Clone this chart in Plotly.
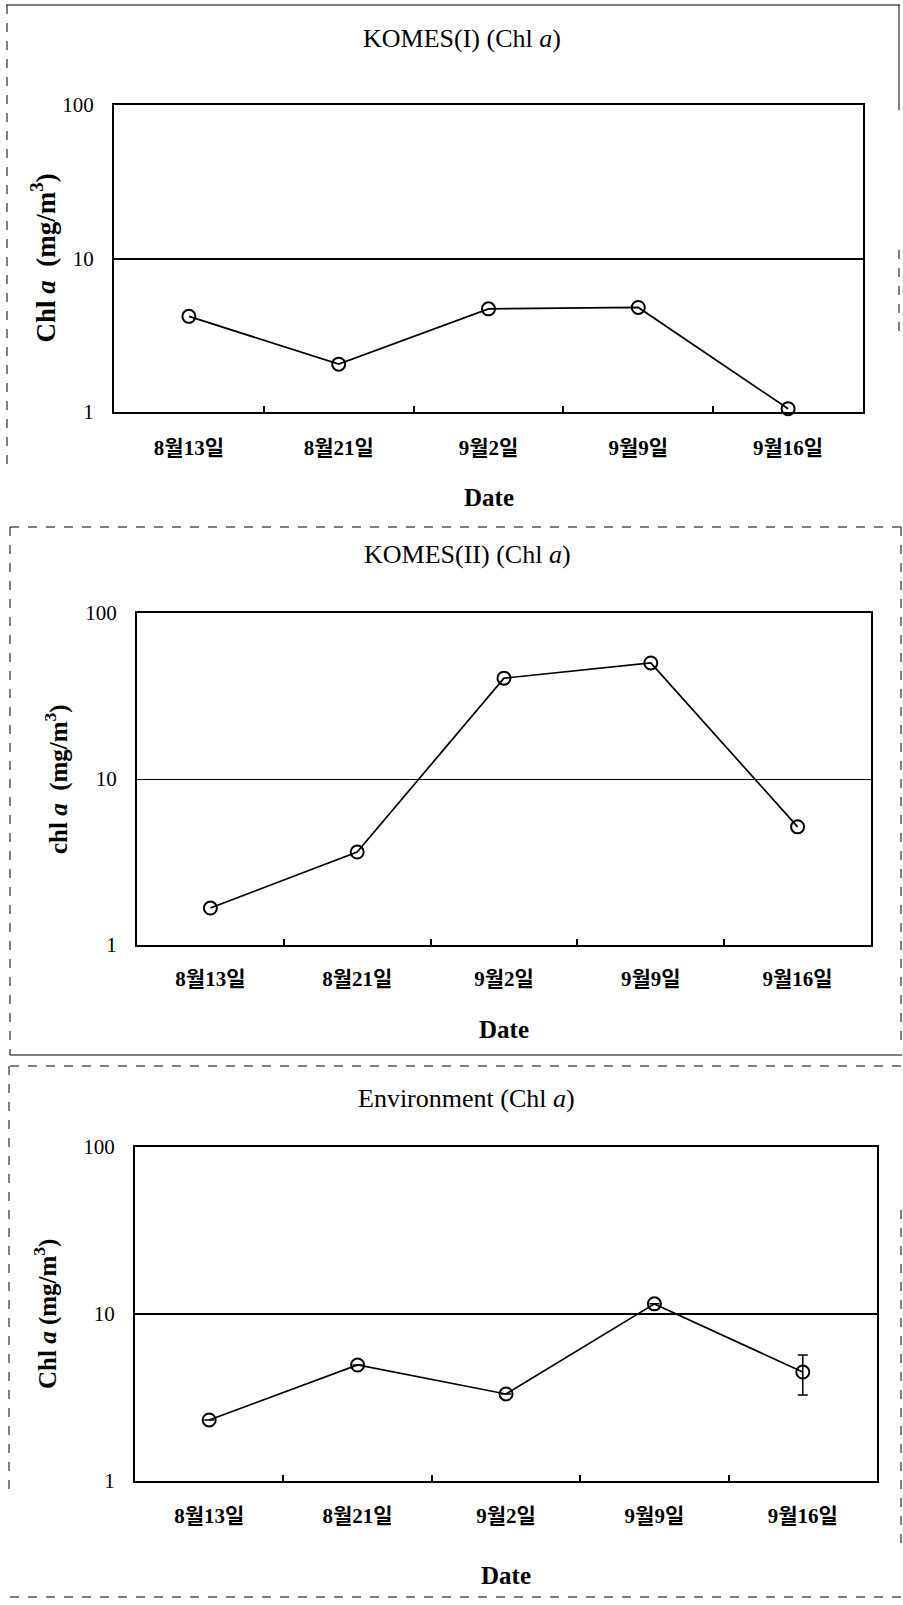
import plotly.graph_objects as go

# ---------------- data ----------------
dates = ["8월13일", "8월21일", "9월2일", "9월9일", "9월16일"]
komes1 = [4.2, 2.05, 4.7, 4.8, 1.05]
komes2 = [1.67, 3.63, 40.5, 50.0, 5.15]
env = [2.32, 4.95, 3.32, 11.5, 4.49]
env_err_plus = [0, 0, 0, 0, 1.19]
env_err_minus = [0, 0, 0, 0, 1.22]
ytick_vals = [1, 10, 100]
ytick_text = ["1", "10", "100"]
titles = ["KOMES(I) (Chl <i>a</i>)", "KOMES(II) (Chl <i>a</i>)", "Environment (Chl <i>a</i>)"]
ytitles = ["Chl <i>a</i>  (mg/m<sup>3</sup>)", "chl <i>a</i>  (mg/m<sup>3</sup>)", "Chl <i>a</i> (mg/m<sup>3</sup>)"]
xtitle = "Date"

W, H = 903, 1605
SERIF = "Liberation Serif, Noto Sans CJK KR, serif"

# panel geometry in pixels: (left, right, top, bottom)
panels = [(114, 863, 105, 412), (137, 871, 613, 945), (135, 877, 1147, 1481)]
gridw = [2, 1, 2]
ytitle_x = [43, 56, 45]
ytitle_size = [27, 25, 25]
title_x = [462, 467, 466]
title_y = [39, 554, 1098]
tick_standoff = [16, 14, 15]
date_offset = [85, 84, 94]

fig = go.Figure()
series = [komes1, komes2, env]
for i, vals in enumerate(series):
    sfx = "" if i == 0 else str(i + 1)
    kw = dict(
        x=dates, y=vals, mode="lines+markers",
        xaxis="x" + sfx, yaxis="y" + sfx,
        line=dict(color="black", width=1.7),
        marker=dict(symbol="circle-open", size=13, color="black", line=dict(width=2)),
        showlegend=False, cliponaxis=False,
    )
    if i == 2:
        kw["error_y"] = dict(type="data", symmetric=False, array=env_err_plus,
                             arrayminus=env_err_minus, color="black", thickness=1.5, width=5)
    fig.add_trace(go.Scatter(**kw))

layout = dict(
    width=W, height=H, margin=dict(l=0, r=0, t=0, b=0, autoexpand=False),
    paper_bgcolor="white", plot_bgcolor="white",
    font=dict(family=SERIF, color="black"),
)
annotations = []
shapes = []
for i, (l, r, t, b) in enumerate(panels):
    sfx = "" if i == 0 else str(i + 1)
    layout["xaxis" + sfx] = dict(
        domain=[l / W, r / W], anchor="y" + sfx, type="category",
        range=[-0.5, len(dates) - 0.5], automargin=False,
        tickson="boundaries", ticks="inside", ticklen=6, tickcolor="black", tickwidth=1.5,
        showline=True, linecolor="black", linewidth=2, mirror=True,
        showgrid=False, zeroline=False,
        tickfont=dict(family=SERIF, size=21, weight="bold"),
        ticklabelstandoff=tick_standoff[i],
    )
    layout["yaxis" + sfx] = dict(
        domain=[1 - b / H, 1 - t / H], anchor="x" + sfx, type="log",
        range=[0, 2], tickvals=ytick_vals, ticktext=ytick_text, ticks="",
        automargin=False,
        showline=True, linecolor="black", linewidth=2, mirror=True,
        showgrid=True, gridcolor="black", gridwidth=gridw[i], zeroline=False,
        tickfont=dict(family=SERIF, size=21),
        ticklabelstandoff=14,
    )
    annotations.append(dict(text=titles[i], xref="paper", yref="paper",
                            x=title_x[i] / W, y=1 - title_y[i] / H,
                            xanchor="center", yanchor="middle",
                            showarrow=False, font=dict(family=SERIF, size=26)))
    annotations.append(dict(text=ytitles[i], xref="paper", yref="paper",
                            x=ytitle_x[i] / W, y=1 - ((t + b) / 2) / H, textangle=-90,
                            xanchor="center", yanchor="middle",
                            showarrow=False, font=dict(family=SERIF, size=ytitle_size[i], weight="bold")))
    annotations.append(dict(text=xtitle, xref="paper", yref="paper",
                            x=((l + r) / 2) / W, y=1 - (b + date_offset[i]) / H,
                            xanchor="center", yanchor="middle",
                            showarrow=False, font=dict(family=SERIF, size=25, weight="bold")))

# scanned page frame lines (decoration)
frame_lines = [
    (6, 5, 900, 5, "solid"), (7, 5, 7, 470, "dash"), (899, 5, 899, 110, "solid"),
    (899, 250, 899, 340, "dash"),
    (10, 527, 902, 527, "dash"), (10, 527, 10, 1055, "dash"), (901, 527, 901, 1040, "dash"),
    (10, 1055, 902, 1055, "solid"),
    (10, 1066, 902, 1066, "dash"), (9, 1066, 9, 1490, "dash"),
    (10, 1597, 902, 1597, "dash"), (901, 1210, 901, 1545, "dash"),
]
for x0, y0, x1, y1, d in frame_lines:
    shapes.append(dict(type="line", xref="paper", yref="paper",
                       x0=x0 / W, x1=x1 / W, y0=1 - y0 / H, y1=1 - y1 / H,
                       line=dict(color="black", width=1, dash=d)))

layout["annotations"] = annotations
layout["shapes"] = shapes
fig.update_layout(**layout)
fig.write_html("out.html", config={"displayModeBar": False},
               post_script="document.body.style.margin='0';")
